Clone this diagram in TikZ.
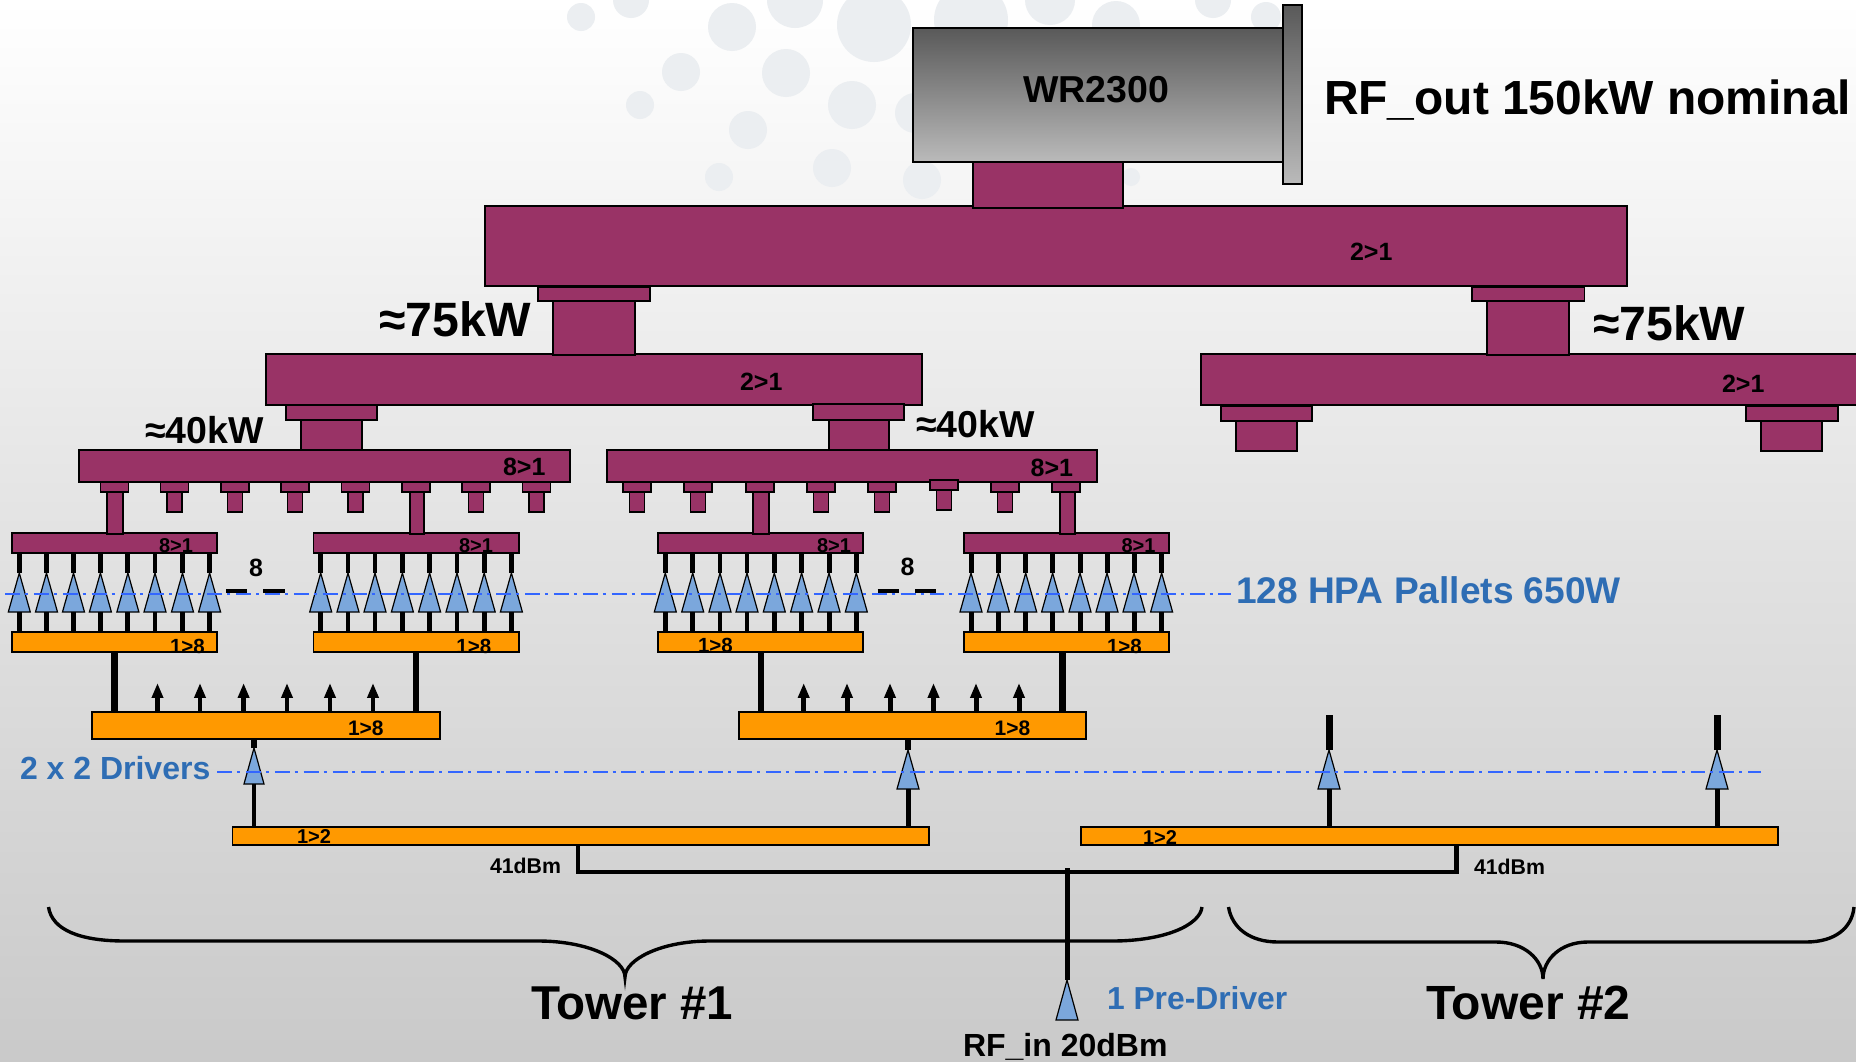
\documentclass[tikz,border=0pt]{standalone}
\usepackage{fontspec}
\setmainfont{Liberation Sans}
\usetikzlibrary{shapes.geometric,arrows.meta}
\definecolor{purp}{HTML}{993366}
\definecolor{orng}{HTML}{FF9900}
\definecolor{ampblue}{HTML}{7BA7DC}
\definecolor{linkblue}{HTML}{3366FF}
\definecolor{txtblue}{HTML}{2E6DB4}
\definecolor{dotc}{HTML}{EBEEF1}
\newcommand{\rbox}[6]{\node[#1,minimum width={(#5-(#3))*1bp},minimum height={(#6-(#4))*1bp},anchor=north west] (#2) at (#3,#4) {};}
\newcommand{\lbl}[5]{\node[anchor=base west,inner sep=0pt,outer sep=0pt,text=#5,font=\fontsize{#4bp}{#4bp}\selectfont\bfseries] (#1) at (#2) {#3};}
\newcommand{\ampset}[4]{\foreach \x [count=\k] in {#2} {%
  \node[amp] (#1\k) at (\x,573) {};
  \draw[stem] (#1\k.apex) -- (#1\k.apex |- #3.south);
  \draw[stem] (#1\k.lower side) -- (#1\k.lower side |- #4.north);}}
\newcommand{\fanout}[3]{\foreach \x [count=\k] in {#2} {%
  \coordinate (#1\k) at (\x,683);
  \draw[fanarrow] (#1\k |- #3.north) -- (#1\k);}}
\tikzset{
  base/.style={draw=black,inner sep=0pt,outer sep=0pt},
  bigbar/.style={base,fill=purp,line width=2pt},
  purpbox/.style={base,fill=purp,line width=1.4pt},
  subbar/.style={base,fill=purp,line width=1.7pt},
  orbar/.style={base,fill=orng,line width=1.7pt},
  amp/.style={base,fill=ampblue,line width=1.2pt,isosceles triangle,isosceles triangle stretches,shape border rotate=90,minimum width=22bp,minimum height=39bp,anchor=apex},
  stem/.style={line width=5pt,black},
  thick stem/.style={line width=7pt,black},
  fanarrow/.style={line width=5pt,black,-{Triangle[width=11pt,length=15pt]}},
  bus/.style={line width=4.5pt,black,miter limit=10},
  dashline/.style={linkblue,line width=1.6pt,dash pattern=on 15pt off 5pt on 3pt off 6pt},
  brace/.style={black,line width=3.4pt},
  dash mark/.style={black,line width=5pt},
}
\begin{document}
\begin{tikzpicture}[x=1bp,y=-1bp]
\useasboundingbox (0,0) rectangle (1856,1061);
\clip (0,0) rectangle (1856,1061);
% background
\shade[top color=white,bottom color=black!21,middle color=black!11] (0,0) rectangle (1856,1061);
\foreach \cx/\cy/\r in {581/17/14,631/0/18,732/27/24,795/0/28,874/25/37,681/72/19,786/73/24,640/105/14,852/105/24,748/130/19,719/177/14,832/168/19,971/20/37,1050/0/25,1116/25/24,1213/0/18,1266/17/15,922/180/19,1131/177/9,915/113/20}
  \fill[dotc] (\cx,\cy) circle (\r);

% waveguide output
\node[base,line width=2pt,top color=black!65,bottom color=black!27,minimum width=370bp,minimum height=134bp,anchor=north west] (wr) at (913,28) {};
\node[base,line width=2pt,top color=black!65,bottom color=black!27,minimum width=19bp,minimum height=179bp,anchor=north west] (flange) at (1283,5) {};

% combiner bars
\rbox{bigbar}{top}{485}{206}{1627}{286}
\rbox{purpbox}{topneck}{973}{162}{1123}{208}
\rbox{bigbar}{cl}{266}{354}{922}{405}
\rbox{bigbar}{cr}{1201}{354}{1862}{405}
\rbox{purpbox}{cla}{538}{287}{650}{301}
\rbox{purpbox}{clb}{553}{301}{635}{355}
\rbox{purpbox}{cra}{1472}{287}{1584.5}{301}
\rbox{purpbox}{crb}{1487}{301}{1569}{355}
\rbox{bigbar}{ml}{79}{450}{569.5}{482}
\rbox{bigbar}{mr}{607}{450}{1097}{482}
\rbox{purpbox}{mla}{286}{405}{377}{420}
\rbox{purpbox}{mlb}{301}{420}{362}{450}
\rbox{purpbox}{mra}{813}{404}{904}{420}
\rbox{purpbox}{mrb}{829}{420}{889}{450}
\rbox{purpbox}{ra}{1221}{406}{1312}{421}
\rbox{purpbox}{rb}{1236}{421}{1297}{451}
\rbox{purpbox}{rc}{1746}{406}{1838}{421}
\rbox{purpbox}{rd}{1761}{421}{1822}{451}

% pallet combiners and splitters
\rbox{subbar}{sa}{12}{533}{217}{553}
\rbox{subbar}{sb}{313.6}{533}{519}{553}
\rbox{subbar}{sc}{658}{533}{863}{553}
\rbox{subbar}{sd}{964}{533}{1169}{553}
\rbox{orbar}{oa}{12}{632}{217}{652}
\rbox{orbar}{ob}{313.6}{632}{519}{652}
\rbox{orbar}{oc}{658}{632}{863}{652}
\rbox{orbar}{od}{964}{632}{1169}{652}
\rbox{orbar}{da}{92}{712}{440}{739}
\rbox{orbar}{db}{739}{712}{1086}{739}
\rbox{orbar}{ta}{232.5}{827}{929}{845}
\rbox{orbar}{tb}{1081}{827}{1778}{845}

% collars + necks of the 8>1 combiners
\foreach \c/\b [count=\k] in {114.3/0,174.6/1,235/1,295/1,355.4/1,416/0,476/1,536.6/1} {
  \rbox{purpbox}{p\k}{\c-14}{482}{\c+14}{492}
  \ifnum\b=1 \rbox{purpbox}{q\k}{\c-7.5}{492}{\c+7.5}{512}\fi
}
\rbox{purpbox}{q1}{107}{492}{123}{534}
\rbox{purpbox}{q6}{410}{492}{424}{534}
\foreach \c/\b/\t [count=\k] in {637/1/482,698/1/482,760/0/482,821/1/482,882/1/482,944/1/480,1005/1/482,1066/0/482} {
  \rbox{purpbox}{u\k}{\c-14}{\t}{\c+14}{\t+10}
  \ifnum\b=1 \rbox{purpbox}{v\k}{\c-7.5}{\t+10}{\c+7.5}{\t+30}\fi
}
\rbox{purpbox}{v3}{753}{492}{769}{534}
\rbox{purpbox}{v8}{1060}{492}{1075}{534}

% amplifiers
\ampset{ha}{19.3,46.5,73.5,100.4,127.9,155,182.5,209.6}{sa}{oa}
\ampset{hb}{320.7,348,375,402.4,429.6,457,484.2,511.4}{sb}{ob}
\ampset{hc}{665.3,692.7,720,747,774.3,801.6,829,856.3}{sc}{oc}
\ampset{hd}{971,998.4,1025.7,1052.6,1080,1107,1134,1161.6}{sd}{od}

% splitter to splitter links
\coordinate (lka) at (114.6,653);
\coordinate (lkb) at (416,653);
\coordinate (lkc) at (761,653);
\coordinate (lkd) at (1062.4,653);
\draw[thick stem] (lka) -- (lka |- da.north);
\draw[thick stem] (lkb) -- (lkb |- da.north);
\draw[thick stem] (lkc) -- (lkc |- db.north);
\draw[thick stem] (lkd) -- (lkd |- db.north);
\fanout{fa}{157.5,200,243.6,287,330,373}{da}
\fanout{fb}{803.7,847,890,933.5,976,1019}{db}

% pallet count marks
\coordinate (m1a) at (226,591); \coordinate (m1b) at (247,591);
\coordinate (m2a) at (263,591); \coordinate (m2b) at (285,591);
\coordinate (m3a) at (877.5,591); \coordinate (m3b) at (899,591);
\coordinate (m4a) at (915,591); \coordinate (m4b) at (936,591);
\draw[dash mark] (m1a) -- (m1b);
\draw[dash mark] (m2a) -- (m2b);
\draw[dash mark] (m3a) -- (m3b);
\draw[dash mark] (m4a) -- (m4b);

% drivers
\node[amp,minimum width=20bp,minimum height=36bp] (dr1) at (254,748) {};
\node[amp] (dr2) at (908,750) {};
\node[amp] (dr3) at (1329,750) {};
\node[amp] (dr4) at (1717,750) {};
\coordinate (u3) at (1329,715);
\coordinate (u4) at (1717,715);
\draw[thick stem] (dr1.apex) -- (dr1.apex |- da.south);
\draw[thick stem] (dr2.apex) -- (dr2.apex |- db.south);
\draw[thick stem] (dr3.apex) -- (u3);
\draw[thick stem] (dr4.apex) -- (u4);
\draw[stem] (dr1.lower side) -- (dr1.lower side |- ta.north);
\draw[stem] (dr2.lower side) -- (dr2.lower side |- ta.north);
\draw[stem] (dr3.lower side) -- (dr3.lower side |- tb.north);
\draw[stem] (dr4.lower side) -- (dr4.lower side |- tb.north);

% feed
\coordinate (jl) at (578,872);
\coordinate (jr) at (1456.5,872);
\coordinate (jc) at (1067,868);
\draw[brace] (48.5,907) .. controls (52,930) and (80,941) .. (125,941) -- (538,941) .. controls (590,941) and (625,960) .. (625,977) .. controls (625,960) and (660,941) .. (710,941) -- (1112,941) .. controls (1165,941) and (1200,925) .. (1202,907);
\draw[brace] (1228.5,907) .. controls (1232,928) and (1250,942) .. (1278,942) -- (1496,942) .. controls (1525,942) and (1543,960) .. (1543,979) .. controls (1543,960) and (1560,942) .. (1588,942) -- (1806,942) .. controls (1835,942) and (1852,928) .. (1854,907);
\draw[bus] (jl |- ta.south) -- (jl) -- (jr) -- (jr |- tb.south);
\node[amp,minimum height=40bp] (pre) at (1067,980) {};
\draw[stem] (pre.apex) -- (jc);

% level lines
\coordinate (l1a) at (5,594); \coordinate (l1b) at (1231,594);
\coordinate (l2a) at (217,772); \coordinate (l2b) at (1761,772);
\draw[dashline] (l1a) -- (l1b);
\draw[dashline] (l2a) -- (l2b);

% labels
\lbl{twr}{1023,102}{WR2300}{37.5}{black}
\lbl{trf}{1324,114}{RF\_out 150kW nominal}{47.9}{black}
\lbl{t21a}{1350,260}{2>1}{25}{black}
\lbl{t21b}{740,390}{2>1}{25}{black}
\lbl{t21c}{1722,392}{2>1}{25}{black}
\lbl{t75a}{379,336}{≈75kW}{48.2}{black}
\lbl{t75b}{1593,340}{≈75kW}{48.2}{black}
\lbl{t40a}{145,443}{≈40kW}{37.5}{black}
\lbl{t40b}{916,437}{≈40kW}{37.5}{black}
\lbl{t81a}{503,475}{8>1}{25}{black}
\lbl{t81b}{1030.6,476}{8>1}{25}{black}
\lbl{t81c}{159,552}{8>1}{20}{black}
\lbl{t81d}{459,552}{8>1}{20}{black}
\lbl{t81e}{817,552}{8>1}{20}{black}
\lbl{t81f}{1121.6,552}{8>1}{20}{black}
\lbl{t8a}{249,576}{8}{25}{black}
\lbl{t8b}{900.5,575}{8}{25}{black}
\lbl{t18a}{170,653}{1>8}{20.5}{black}
\lbl{t18b}{456.4,653}{1>8}{20.5}{black}
\lbl{t18c}{698,652}{1>8}{20.5}{black}
\lbl{t18d}{1107,653}{1>8}{20.5}{black}
\lbl{t18e}{348,735}{1>8}{21}{black}
\lbl{t18f}{994.7,735}{1>8}{21}{black}
\lbl{t12a}{297,843}{1>2}{20}{black}
\lbl{t12b}{1143,844}{1>2}{20}{black}
\lbl{t41a}{490,873}{41dBm}{21.3}{black}
\lbl{t41b}{1474,874}{41dBm}{21.3}{black}
\lbl{thpa}{1236,603}{128 HPA Pallets 650W}{37.1}{txtblue}
\lbl{tdrv}{20,779}{2 x 2 Drivers}{32}{txtblue}
\lbl{tpre}{1107,1009}{1 Pre-Driver}{31.8}{txtblue}
\lbl{ttw1}{531,1019}{Tower \#1}{47.5}{black}
\lbl{ttw2}{1426,1019}{Tower \#2}{48}{black}
\lbl{trin}{963,1056}{RF\_in 20dBm}{32}{black}
\end{tikzpicture}
\end{document}
